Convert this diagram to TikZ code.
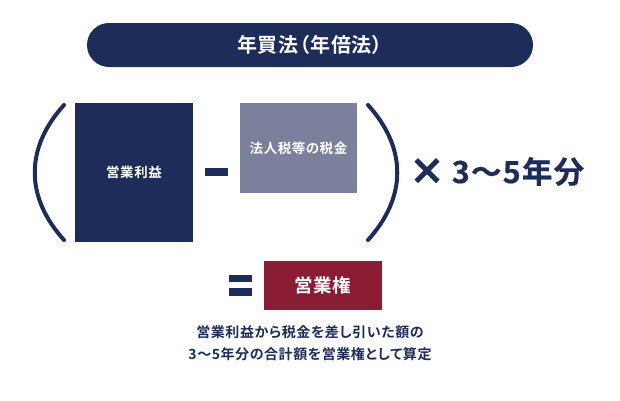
\documentclass[tikz,border=0pt]{standalone}
\usepackage{fontspec}
\usepackage{xcolor}
\usetikzlibrary{
    shapes,
    calc
}
\setmainfont{Noto Sans CJK JP}[BoldFont={Noto Sans CJK JP Bold},RawFeature={+palt},LetterSpace=4]
\newfontfamily\heavyfont{Noto Sans CJK JP Black}[FakeBold=2]
\newfontfamily\yearsfont{Noto Sans CJK JP Bold}[FakeBold=0.5,RawFeature={+palt},LetterSpace=4]
\definecolor{navy}{HTML}{1E2C5A}
\definecolor{slate}{HTML}{7B819D}
\definecolor{wine}{HTML}{8A1D33}
\tikzset{
    box/.style={fill=#1, text=white, inner sep=0pt, font=\bfseries\fontsize{13.5}{16}\selectfont},
    bar/.style={fill=navy, inner sep=0pt, minimum width=23pt},
    paren/.style={draw=navy, line width=4pt, line cap=round}
}
\begin{document}
\begin{tikzpicture}[x=1pt,y=-1pt]
    \useasboundingbox (0, 0) rectangle (620, 400);

    \node[box=navy, rounded corners=22pt, minimum width=446pt, minimum height=44pt, font=\bfseries\fontsize{20}{22}\selectfont] (title) at (310, 45) {年買法（年倍法）};

    \node[box=navy, minimum width=118pt, minimum height=139pt] (profit) at (134, 172.5) {\raisebox{-.7pt}{営業利益}};
    \node[box=slate, minimum width=117pt, minimum height=90pt] (tax) at (298.5, 148) {法人税等の税金};
    \node[bar, minimum height=7.5pt] (minus) at (216.5, 172) {};

    \coordinate (lt) at (64, 105);
    \coordinate (lb) at (64, 240);
    \coordinate (rt) at (368, 105);
    \coordinate (rb) at (368, 240);
    \draw[paren] (lt) .. controls (25, 148) and (25, 197) .. (lb);
    \draw[paren] (rt) .. controls (407, 148) and (407, 197) .. (rb);

    \node[text=navy, font=\heavyfont\fontsize{36}{36}\selectfont, inner sep=0pt] (times) at (427, 171.5) {×};
    \node[text=navy, font=\yearsfont\fontsize{30.5}{34}\selectfont, inner sep=0pt] (years) at (518, 171.5) {3〜5年分};

    \node[bar, minimum height=7.5pt] (eq1) at (240.5, 278.5) {};
    \node[bar, minimum height=7.5pt] (eq2) at (240.5, 292) {};
    \node[box=wine, minimum width=118pt, minimum height=49pt, font=\bfseries\fontsize{18.5}{20}\selectfont] (right) at (323, 285.5) {営業権};

    \node[text=navy, align=center, inner sep=0pt, font=\bfseries\fontsize{14}{22}\selectfont] (note) at (310, 343) {営業利益から税金を差し引いた額の\\3〜5年分の合計額を営業権として算定};
\end{tikzpicture}
\end{document}
